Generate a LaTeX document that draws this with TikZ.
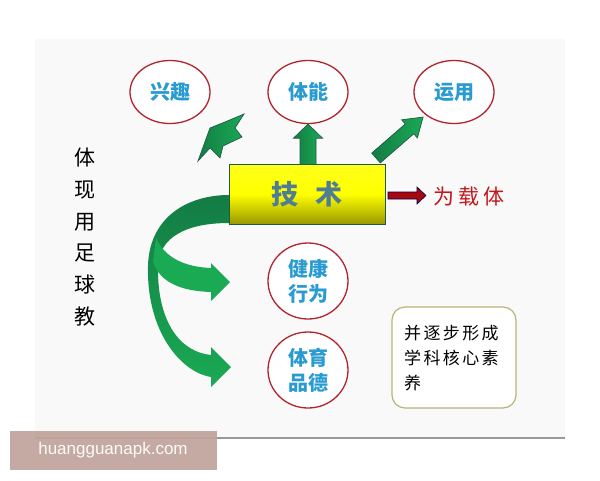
\documentclass[tikz,border=0pt]{standalone}
\usepackage{fontspec}
\setmainfont{Liberation Sans}
\newfontfamily\cjk{Noto Sans CJK SC}
\newfontfamily\cjkspaced[LetterSpace=14]{Noto Sans CJK SC}
\newfontfamily\cjkred[LetterSpace=20]{Noto Sans CJK SC}
\usetikzlibrary{shapes.geometric}
\definecolor{circred}{HTML}{B3232D}
\definecolor{circtext}{HTML}{2A9BD1}
\definecolor{gdark}{HTML}{137C44}
\definecolor{glight}{HTML}{1AAA54}
\definecolor{gout}{HTML}{1F5A48}
\definecolor{slidebg}{HTML}{F9F9F9}
\definecolor{boxline}{HTML}{B8B574}
\definecolor{techtext}{HTML}{4F7D93}
\definecolor{redtext}{HTML}{C4161C}
\definecolor{darkred}{HTML}{9A0E1E}
\definecolor{wmark}{HTML}{BFA39B}
\tikzset{
  goal/.style={ellipse, draw=circred, line width=1.3pt, fill=white,
    minimum width=80pt, minimum height=63pt, inner sep=0pt,
    font=\cjk\bfseries\fontsize{20}{25}\selectfont, text=circtext, align=center},
  goaltall/.style={goal, minimum height=76pt},
  fatarrow/.style={draw=gout, line width=0.7pt, left color=gdark, right color=glight},
  bandarrow/.style={fill=glight},
}
\begin{document}
\begin{tikzpicture}[x=1pt,y=-1pt]
\useasboundingbox (0,0) rectangle (600,480);
\fill[white] (0,0) rectangle (600,480);
\fill[slidebg] (35,39) rectangle (565,438);

% circles
\node[goal] (xq) at (170,92) {兴趣};
\node[goal] (tn) at (308,92) {体能};
\node[goal] (yy) at (454,92) {运用};
\node[goaltall] (jk) at (308,281) {健康\\行为};
\node[goaltall] (ty) at (308,370) {体育\\品德};

% left vertical text
\node[font=\cjk\fontsize{21}{31.8}\selectfont, align=center, inner sep=0pt] (left) at (85,237) {体\\现\\用\\足\\球\\教};

% curved band arrows
\path[top color=gdark, bottom color=glight]
  (229,195) .. controls (190,195) and (150,215) .. (148,265)
  .. controls (146,330) and (180,372) .. (211,377)
  -- (211,387) -- (231,367) -- (211,347) -- (211,355)
  .. controls (180,352) and (158,322) .. (158,270)
  .. controls (157,235) and (190,223) .. (229,223) -- cycle;
\path[bandarrow]
  (156,238) .. controls (165,258) and (185,267) .. (211,268)
  -- (211,263) -- (230,282) -- (211,301) -- (211,292)
  .. controls (180,291) and (160,282) .. (153,262) -- cycle;

% jagged arrow toward xq
\path[fatarrow] (244,114) -- (235,128) -- (242,137) -- (223,146) -- (220,158)
  -- (210,148) -- (198,161) -- (210,128) -- (225,122) -- cycle;

% straight up arrow
\begin{scope}[shift={(tn.south)}]
\path[fatarrow] (0,0) -- (14.5,14) -- (8,14) -- (8,41) -- (-8,41) -- (-8,14) -- (-14.5,14) -- cycle;
\end{scope}

% diagonal arrow
\begin{scope}[shift={(376,158)}, rotate=41]
\path[fatarrow] (0,-6.5) -- (44.4,-6.5) -- (44.4,-12) -- (62.4,0) -- (44.4,12) -- (44.4,6.5) -- (0,6.5) -- cycle;
\end{scope}

% central box
\node[draw=gout, line width=1pt, top color=yellow!90!white, bottom color=yellow!60!black,
  middle color=yellow, minimum width=156pt, minimum height=60pt, inner sep=0pt,
  font=\cjk\bfseries\fontsize{27}{30}\selectfont, text=techtext] (tech) at (307,194) {技\hspace{17pt}术};

% red arrow
\path[draw=black!70!blue, line width=0.6pt, top color=red!70!black, bottom color=darkred]
  (388,192) -- (417,192) -- (417,187) -- (426,195.5) -- (417,204) -- (417,199) -- (388,199) -- cycle;
\node[font=\cjkred\fontsize{21}{24}\selectfont, text=redtext, anchor=west, inner sep=0pt] (zt) at (433,197) {为载体};

% rounded text box
\node[draw=boxline, line width=1.2pt, rounded corners=13pt, fill=white,
  minimum width=124pt, minimum height=101pt] (sy) at (454,357.5) {};
\node[font=\cjkspaced\fontsize{17}{25}\selectfont, align=left, anchor=west, inner sep=0pt] (syt) at (404,358) {并逐步形成\\学科核心素\\养};

% watermark and bottom line
\draw[black!40, line width=2pt] (35,438) -- (565,438);
\fill[wmark, fill opacity=0.92] (10,431) rectangle (217,470);
\node[font=\fontsize{17}{20}\selectfont, text=white!95!wmark, inner sep=0pt] (wm) at (113,450) {huangguanapk.com};
\end{tikzpicture}
\end{document}
